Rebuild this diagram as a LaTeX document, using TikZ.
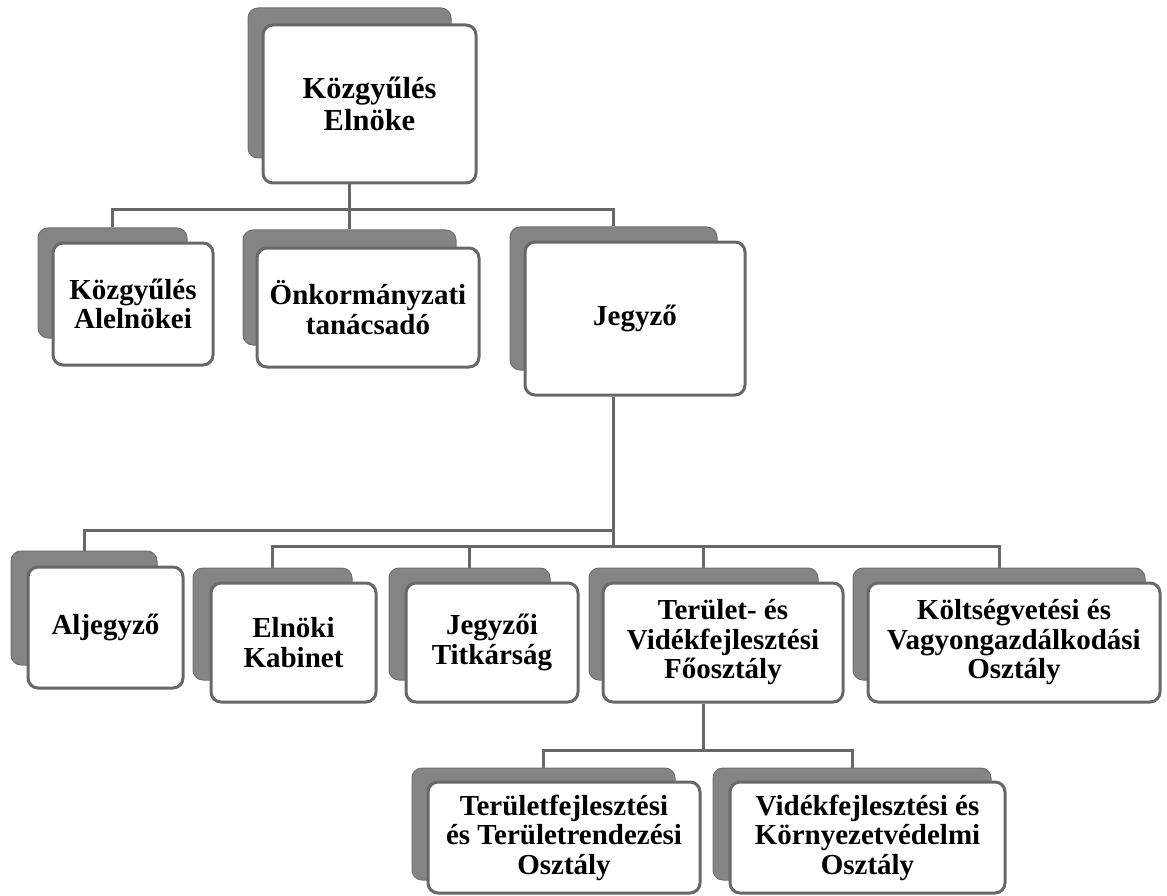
\documentclass[tikz,border=0pt]{standalone}
\usepackage{fontspec}
\setmainfont{Liberation Serif}
\usetikzlibrary{fit}
\definecolor{shd}{RGB}{132,132,132}
\definecolor{lin}{RGB}{104,104,104}
\tikzset{
  frontbox/.style={draw=lin, line width=3pt, fill=white, rounded corners=10pt, inner sep=0pt,
    align=center, font=\fontsize{29}{29.5}\selectfont\bfseries},
  shadowbox/.style={draw=shd!85!black, line width=1pt, fill=shd, rounded corners=10pt, inner sep=0pt},
  link/.style={draw=lin, line width=3pt},
}
\begin{document}
\begin{tikzpicture}[x=1pt,y=-1pt]
\useasboundingbox (0,0) rectangle (1167,896);
% connector junctions
\coordinate (j0) at (349.5,210);
\coordinate (j1) at (613.5,530);
\coordinate (j2) at (613.5,546);
\coordinate (j3) at (703.5,750);
% shadows
\node[shadowbox, fit={(248,8) (451,158)}] (s-top) {};
\node[shadowbox, fit={(38,228) (187,338)}] (s-al) {};
\node[shadowbox, fit={(243,230) (456,345)}] (s-onk) {};
\node[shadowbox, fit={(510,227) (717,370)}] (s-jeg) {};
\node[shadowbox, fit={(11,551) (157,665)}] (s-alj) {};
\node[shadowbox, fit={(193,568) (352,680)}] (s-eln) {};
\node[shadowbox, fit={(389,568) (550,680)}] (s-tit) {};
\node[shadowbox, fit={(589,568) (818,680)}] (s-ter) {};
\node[shadowbox, fit={(853,568) (1145,680)}] (s-kol) {};
\node[shadowbox, fit={(412,768) (675,880)}] (s-tfo) {};
\node[shadowbox, fit={(713,768) (991,880)}] (s-vfo) {};
% connectors
\draw[link] (j0) -| (s-al.north);
\draw[link] (j0) -| (s-jeg.north);
\draw[link] (j0) -- (s-onk.north);
\draw[link] (j1) -| (s-alj.north);
\draw[link] (j2) -| (s-eln.north);
\draw[link] (j2) -| (s-tit.north);
\draw[link] (j2) -| (s-ter.north);
\draw[link] (j2) -| (s-kol.north);
\draw[link] (j3) -| (s-tfo.north);
\draw[link] (j3) -| (s-vfo.north);
% front boxes
\node[frontbox, minimum width=213, minimum height=158, font=\fontsize{30.5}{32}\selectfont\bfseries] (top) at (369.5,104) {Közgyűlés\\Elnöke};
\node[frontbox, minimum width=160, minimum height=122] (al) at (133,304) {Közgyűlés\\Alelnökei};
\node[frontbox, minimum width=222, minimum height=119] (onk) at (368,307.5) {Önkormányzati\\tanácsadó};
\node[frontbox, minimum width=220, minimum height=153] (jeg) at (635,318.5) {Jegyző};
\node[frontbox, minimum width=155, minimum height=121] (alj) at (105.5,627.5) {Aljegyző};
\node[frontbox, minimum width=165, minimum height=119] (eln) at (293.5,642.5) {Elnöki\\Kabinet};
\node[frontbox, minimum width=172, minimum height=119] (tit) at (492,642.5) {Jegyzői\\Titkárság};
\node[frontbox, minimum width=240, minimum height=119] (ter) at (723,642.5) {Terület- és\\Vidékfejlesztési\\Főosztály};
\node[frontbox, minimum width=292, minimum height=119] (kol) at (1014,642.5) {Költségvetési és\\Vagyongazdálkodási\\Osztály};
\node[frontbox, minimum width=272, minimum height=111] (tfo) at (564,837.5) {Területfejlesztési\\és Területrendezési\\Osztály};
\node[frontbox, minimum width=275, minimum height=111] (vfo) at (867.5,837.5) {Vidékfejlesztési és\\Környezetvédelmi\\Osztály};
% parent stems
\draw[link] (top.south -| s-top.north) -- (j0);
\draw[link] (jeg.south -| s-jeg.north) -- (j2);
\draw[link] (ter.south -| s-ter.north) -- (j3);
\end{tikzpicture}
\end{document}
